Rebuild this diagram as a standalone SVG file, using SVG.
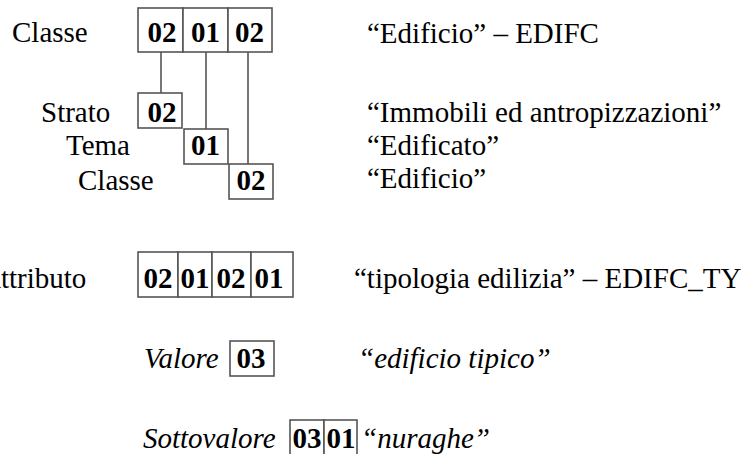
<svg xmlns="http://www.w3.org/2000/svg" width="751" height="454" viewBox="0 0 751 454">
<style>
text{font-family:'Liberation Serif',Tinos,'Times New Roman',Times,'DejaVu Serif',serif;font-size:29px;fill:#000}
.b{font-weight:bold;text-anchor:middle;font-size:29px}
.i{font-style:italic}
.box{fill:#fff;stroke:#555;stroke-width:1.6}
.ln{stroke:#555;stroke-width:1.6;fill:none}
</style>
<rect width="751" height="454" fill="#fff"/>
<g id="connectors">
<line class="ln" x1="161" y1="52" x2="161" y2="93"/>
<line class="ln" x1="206" y1="52" x2="206" y2="129"/>
<line class="ln" x1="248" y1="52" x2="248" y2="164"/>
</g>
<g id="classe-code">
<text x="12" y="42">Classe</text>
<rect class="box" x="138" y="8" width="45" height="44"/>
<rect class="box" x="183" y="8" width="45" height="44"/>
<rect class="box" x="228" y="8" width="44" height="44"/>
<text class="b" x="162" y="42">02</text>
<text class="b" x="205.5" y="42">01</text>
<text class="b" x="249.5" y="42">02</text>
<text x="367" y="43">“Edificio” – EDIFC</text>
</g>
<g id="strato">
<text x="41" y="122">Strato</text>
<rect class="box" x="138" y="93" width="44" height="35"/>
<text class="b" x="162" y="122">02</text>
<text x="367" y="122">“Immobili ed antropizzazioni”</text>
</g>
<g id="tema">
<text x="66" y="155">Tema</text>
<rect class="box" x="184" y="129" width="44" height="35"/>
<text class="b" x="205.5" y="155">01</text>
<text x="367" y="155">“Edificato”</text>
</g>
<g id="classe">
<text x="78" y="190">Classe</text>
<rect class="box" x="229" y="164" width="44" height="35"/>
<text class="b" x="251" y="190">02</text>
<text x="367" y="188">“Edificio”</text>
</g>
<g id="attributo">
<text x="-20" y="288">Attributo</text>
<rect class="box" x="138" y="252" width="40" height="45"/>
<rect class="box" x="178" y="252" width="34" height="45"/>
<rect class="box" x="212" y="252" width="39" height="45"/>
<rect class="box" x="251" y="252" width="42" height="45"/>
<text class="b" x="158" y="288">02</text>
<text class="b" x="195" y="288">01</text>
<text class="b" x="231" y="288">02</text>
<text class="b" x="269" y="288">01</text>
<text x="354" y="288">“tipologia edilizia” – EDIFC_TY</text>
</g>
<g id="valore">
<text class="i" x="144" y="368">Valore</text>
<rect class="box" x="230" y="341" width="44" height="35"/>
<text class="b" x="251" y="368">03</text>
<text class="i" x="358" y="368">“edificio tipico”</text>
</g>
<g id="sottovalore">
<text class="i" x="143" y="448">Sottovalore</text>
<rect class="box" x="290" y="420" width="34" height="45"/>
<rect class="box" x="324" y="420" width="33" height="45"/>
<text class="b" x="307" y="448">03</text>
<text class="b" x="341" y="448">01</text>
<text class="i" x="361" y="448">“nuraghe”</text>
</g>
</svg>
